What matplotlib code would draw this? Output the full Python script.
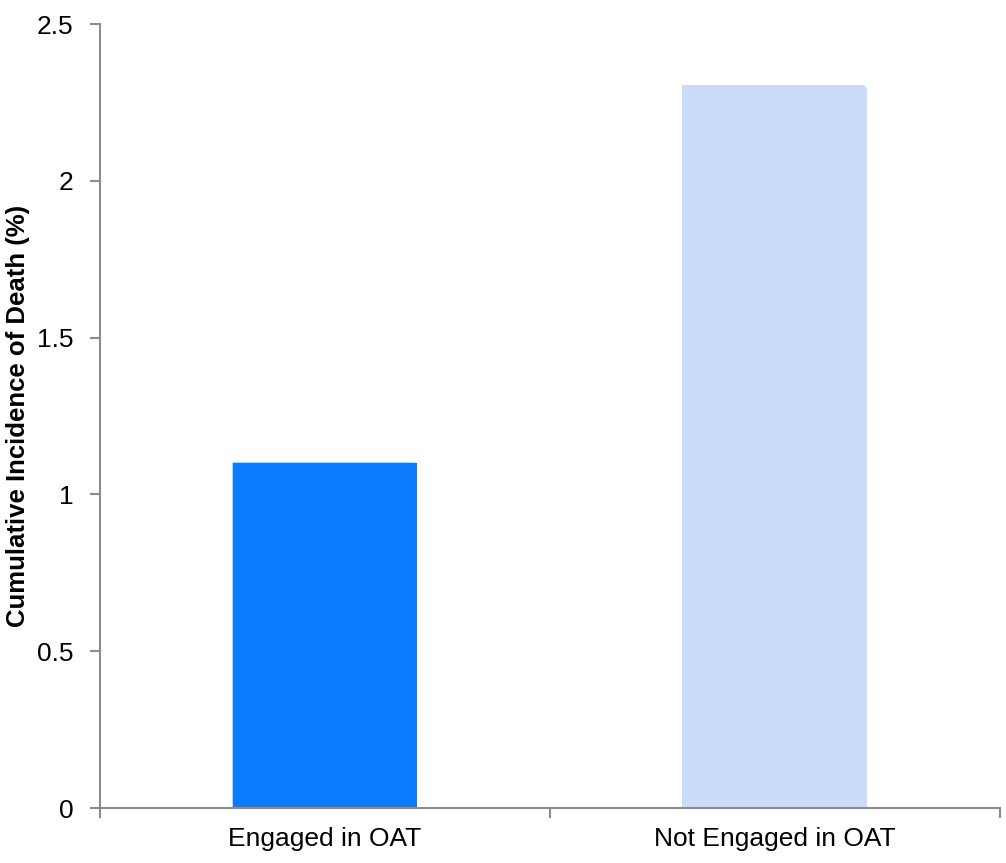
import matplotlib
matplotlib.use('Agg')
import matplotlib.pyplot as plt
import matplotlib.patheffects as pe

# data
categories = ['Engaged in OAT', 'Not Engaged in OAT']
values = [1.1, 2.3]
colors = ['#0A7AFF', '#C9DDFB']
yticks = [0, 0.5, 1, 1.5, 2, 2.5]
ytick_labels = ['0', '0.5', '1', '1.5', '2', '2.5']

plt.rcParams['font.family'] = ['Liberation Sans', 'DejaVu Sans']

fig = plt.figure(figsize=(10.06, 8.63), dpi=100)
ax = fig.add_axes([100 / 1006, 55 / 863, 900 / 1006, 784 / 863])

x = range(len(categories))
bars = ax.bar(x, values, width=0.407, color=colors, linewidth=0)
for b in bars:
    b.set_path_effects([pe.SimplePatchShadow(offset=(-1, 1), alpha=0.2), pe.Normal()])

ax.set_xlim(-0.5, len(categories) - 0.5)
ax.set_ylim(0, 2.5)

ax.set_yticks(yticks)
ax.set_yticklabels(ytick_labels, fontsize=19)
ax.set_xticks([-0.5, 0.5, 1.5], minor=False)
ax.set_xticklabels([])
ax.set_xticks(list(x), minor=True)
ax.set_xticklabels(categories, minor=True, fontsize=19)
ax.tick_params(axis='x', which='minor', length=0, pad=14)
ax.tick_params(axis='x', which='major', length=7, width=1.5, color='#8C8C8C')
ax.tick_params(axis='y', length=7, width=1.5, color='#8C8C8C', pad=12)

for s in ['top', 'right']:
    ax.spines[s].set_visible(False)
for s in ['left', 'bottom']:
    ax.spines[s].set_color('#8C8C8C')
    ax.spines[s].set_linewidth(1.5)

ax.set_ylabel('Cumulative Incidence of Death (%)', fontsize=18.5, fontweight='bold', va='center')
ax.yaxis.set_label_coords(-82 / 900, 0.5)

fig.savefig('out.png', dpi=100)
